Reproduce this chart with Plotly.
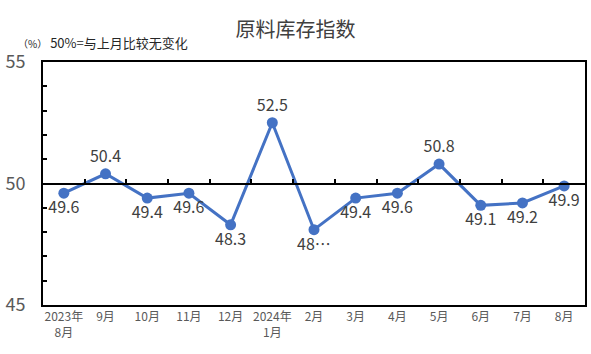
import plotly.graph_objects as go

categories = ["2023年<br>8月", "9月", "10月", "11月", "12月", "2024年<br>1月", "2月",
              "3月", "4月", "5月", "6月", "7月", "8月"]
values = [49.6, 50.4, 49.4, 49.6, 48.3, 52.5, 48.1, 49.4, 49.6, 50.8, 49.1, 49.2, 49.9]
labels = ["49.6", "50.4", "49.4", "49.6", "48.3", "52.5", "48…", "49.4", "49.6", "50.8", "49.1", "49.2", "49.9"]
positions = ["bottom center", "top center", "bottom center", "bottom center", "bottom center",
             "top center", "bottom center", "bottom center", "bottom center", "top center",
             "bottom center", "bottom center", "bottom center"]

FONT = "Noto Sans CJK SC"
fig = go.Figure()
fig.add_trace(go.Scatter(
    x=categories, y=values, mode="lines+markers+text",
    line=dict(color="#4472C4", width=3),
    marker=dict(color="#4472C4", size=11),
    text=labels, textposition=positions,
    textfont=dict(family=FONT, size=16, color="#404040"),
    showlegend=False, cliponaxis=False,
))
fig.add_trace(go.Scatter(x=categories, y=[None]*len(categories), xaxis="x2",
                         showlegend=False, hoverinfo="skip"))

fig.update_layout(
    width=591, height=354,
    margin=dict(l=43, r=4, t=62, b=49),
    paper_bgcolor="white", plot_bgcolor="white",
    font=dict(family=FONT, color="#595959"),
    title=dict(text="原料库存指数", x=0.5, xanchor="center", y=0.915, yanchor="middle",
               font=dict(family=FONT, size=20, color="#404040")),
    xaxis=dict(type="category", range=[-0.5, 12.5], showline=True, mirror=True,
               linecolor="black", linewidth=2, ticks="", showgrid=False,
               tickfont=dict(family=FONT, size=12, color="#595959")),
    xaxis2=dict(type="category", overlaying="x", anchor="free", position=0.5,
                matches="x", showline=True, linecolor="black", linewidth=2,
                ticks="inside", tickson="boundaries", ticklen=4, tickcolor="black",
                tickwidth=2, showticklabels=False, showgrid=False),
    yaxis=dict(range=[45, 55], dtick=5, showline=True, mirror=True, linecolor="black",
               linewidth=2, ticks="inside", ticklen=4, tickcolor="black", tickwidth=2,
               showgrid=False, zeroline=False, ticklabelstandoff=12,
               minor=dict(dtick=1, ticks="inside", ticklen=4, tickcolor="black", tickwidth=2),
               tickfont=dict(family=FONT, size=18, color="#595959")),
    annotations=[
        dict(text="<span style='font-size:10px'>（%）</span> 50%=与上月比较无变化",
             xref="paper", yref="paper", x=-0.05, y=1.08, xanchor="left", yanchor="middle",
             showarrow=False, font=dict(family=FONT, size=13, color="#262626")),
    ],
)
fig.write_html("out.html")
